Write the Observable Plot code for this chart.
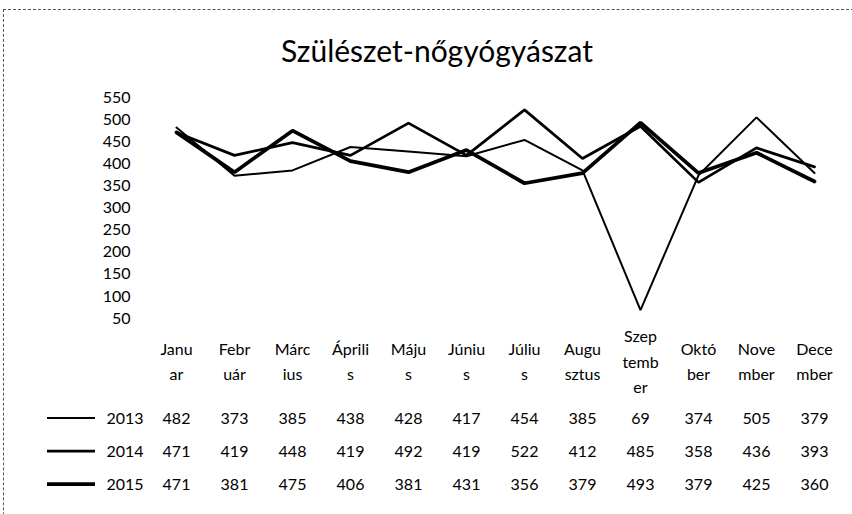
<!DOCTYPE html>
<html><head><meta charset="utf-8">
<script src="https://cdn.jsdelivr.net/npm/d3@7"></script>
<script src="https://cdn.jsdelivr.net/npm/@observablehq/plot@0.6"></script>
<style>
body{margin:0;background:#fff;font-family:Lato,"Open Sans",sans-serif;color:#000;}
#wrap{position:relative;width:852px;height:514px;overflow:hidden;background:#fff;}
#frame{position:absolute;left:3px;top:9px;width:900px;height:600px;border-top:1px dashed #555;border-left:1px dashed #555;}
#title{position:absolute;top:32px;left:0;width:874px;text-align:center;font-size:30px;line-height:36px;}
#chart{position:absolute;left:0;top:70px;}
#table{position:absolute;left:0;top:398px;}
</style></head>
<body>
<div id="wrap">
  <div id="frame"></div>
  <div id="title">Szülészet-nőgyógyászat</div>
  <div id="chart"></div>
  <div id="table"></div>
</div>
<script>
const months = ["Január","Február","Március","Április","Május","Június","Július","Augusztus","Szeptember","Október","November","December"];
const monthLabels = ["Janu\nar","Febr\nuár","Márc\nius","Áprili\ns","Máju\ns","Júniu\ns","Júliu\ns","Augu\nsztus","Szep\ntemb\ner","Októ\nber","Nove\nmber","Dece\nmber"];
const years = ["2013","2014","2015"];
const v2013 = [482,373,385,438,428,417,454,385,69,374,505,379];
const v2014 = [471,419,448,419,492,419,522,412,485,358,436,393];
const v2015 = [471,381,475,406,381,431,356,379,493,379,425,360];
const yTicks = [50,100,150,200,250,300,350,400,450,500,550];
const strokeWidths = {"2013": 2, "2014": 2.75, "2015": 3.75};

const series = [v2013, v2014, v2015];
const rows = years.flatMap((yr, j) => months.map((m, i) => ({month: m, year: yr, value: series[j][i]})));

const xScale = {type: "point", domain: months, padding: 0.5, align: 0.5};

const chart = Plot.plot({
  width: 852, height: 328,
  marginTop: 27, marginBottom: 80, marginLeft: 147, marginRight: 9,
  style: {fontFamily: "Lato, 'Open Sans', sans-serif", fontSize: "16px", color: "#000", background: "transparent", overflow: "visible"},
  x: {...xScale, axis: null, label: null},
  y: {domain: [50, 550], ticks: yTicks, axis: null, label: null},
  marks: [
    Plot.axisY({ticks: yTicks, tickSize: 0, tickPadding: 17, tickFormat: d => String(d), fontSize: 16, label: null}),
    ...years.map((yr, j) => Plot.line(rows.filter(r => r.year === yr), {
      x: "month", y: "value", stroke: "#000", strokeWidth: strokeWidths[yr], strokeLinejoin: "miter"
    })),
    Plot.text(months, {x: d => d, text: (d, i) => monthLabels[i], frameAnchor: "bottom", dy: 41,
      lineAnchor: "middle", lineHeight: 1.6, fontSize: 16, fill: "#000"})
  ]
});
document.getElementById("chart").appendChild(chart);

const table = Plot.plot({
  width: 852, height: 116,
  marginTop: 19, marginBottom: 30, marginLeft: 147, marginRight: 9,
  style: {fontFamily: "Lato, 'Open Sans', sans-serif", fontSize: "16px", color: "#000", background: "transparent"},
  x: {...xScale, axis: null, label: null},
  y: {type: "point", domain: years, range: [19, 86], padding: 0, axis: null, label: null},
  marks: [
    Plot.axisY({tickSize: 0, tickPadding: 4, fontSize: 16, label: null}),
    Plot.text(rows, {x: "month", y: "year", text: d => String(d.value), fontSize: 16, fill: "#000"})
  ]
});
document.getElementById("table").appendChild(table);

// legend swatches beside the year labels
const ys = table.scale("y");
const svg = d3.select(table);
years.forEach(yr => {
  svg.append("line")
    .attr("x1", 47).attr("x2", 95)
    .attr("y1", ys.apply(yr)).attr("y2", ys.apply(yr))
    .attr("stroke", "#000").attr("stroke-width", strokeWidths[yr]);
});
</script>
</body></html>
